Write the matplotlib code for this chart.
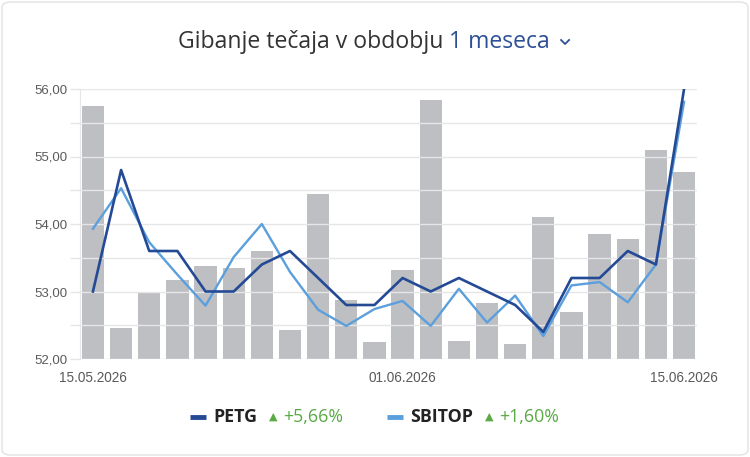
import numpy as np
import matplotlib
matplotlib.use("Agg")
import matplotlib.pyplot as plt
from matplotlib.patches import FancyBboxPatch
from matplotlib.lines import Line2D

# trading days shown on the chart
dates = ['15.05.2026', '18.05.2026', '19.05.2026', '20.05.2026', '21.05.2026',
         '22.05.2026', '25.05.2026', '26.05.2026', '27.05.2026', '28.05.2026',
         '29.05.2026', '01.06.2026', '02.06.2026', '03.06.2026', '04.06.2026',
         '05.06.2026', '08.06.2026', '09.06.2026', '10.06.2026', '11.06.2026',
         '12.06.2026', '15.06.2026']
shown_dates = ['15.05.2026', '01.06.2026', '15.06.2026']

petg = [53.0, 54.8, 53.6, 53.6, 53.0, 53.0, 53.4, 53.6, 53.2, 52.8, 52.8,
        53.2, 53.0, 53.2, 53.0, 52.8, 52.4, 53.2, 53.2, 53.6, 53.4, 56.0]
sbitop = [53.93, 54.53, 53.73, 53.25, 52.79, 53.51, 54.0, 53.29, 52.73, 52.49, 52.74,
          52.86, 52.49, 53.04, 52.54, 52.94, 52.34, 53.09, 53.14, 52.84, 53.40, 55.81]
# volume bars, drawn on the price scale
volume = [55.75, 52.46, 53.0, 53.17, 53.38, 53.35, 53.6, 52.43, 54.44, 52.88, 52.25,
          53.32, 55.83, 52.26, 52.83, 52.22, 54.10, 52.70, 53.85, 53.78, 55.09, 54.77]

yticks = np.arange(52, 56.01, 0.5)
series_names = ['PETG', 'SBITOP']
changes = ['+5,66%', '+1,60%']

dark = '#244a96'
light = '#5b9fdc'
green = '#5aaa45'
grid_c = '#e6e6e6'

W, H = 750, 457
fig = plt.figure(figsize=(W / 100, H / 100), dpi=100)
fig.patch.set_facecolor('white')

# card border
card = FancyBboxPatch((2 / W, 2 / H), 746 / W, 453 / H,
                      boxstyle='round,pad=0,rounding_size=0.012',
                      transform=fig.transFigure, facecolor='white',
                      edgecolor='#e2e2e2', linewidth=1.0, zorder=-5)
fig.patches.append(card)

ax = fig.add_axes([80 / W, 1 - 359 / H, 617 / W, 270 / H])
ax.set_zorder(2)
x = np.arange(len(dates))
ax.bar(x, np.array(volume) - 52, bottom=52, width=0.79, color='#bdbfc2', zorder=1)
ax.plot(x, sbitop, color=light, lw=1.7, zorder=3)
ax.plot(x, petg, color=dark, lw=1.9, zorder=4)

ax.set_xlim(-0.46, 21.46)
ax.set_ylim(52, 56)
ax.set_yticks(yticks)
ax.set_yticklabels([f'{v:.2f}'.replace('.', ',') if v % 1 == 0 else '' for v in yticks])
ax.grid(axis='y', color=grid_c, lw=1.0, zorder=0)
ax.tick_params(axis='y', length=7, color=grid_c, width=1.0, pad=2,
               labelsize=9.5, labelcolor='#5a5a5a')
ax.set_xticks([dates.index(d) for d in shown_dates])
ax.set_xticklabels(shown_dates)
ax.tick_params(axis='x', length=0, pad=9, labelsize=9.8, labelcolor='#5a5a5a')
for lab in ax.get_xticklabels() + ax.get_yticklabels():
    lab.set_fontfamily('Liberation Sans')
for s in ['top', 'right', 'bottom']:
    ax.spines[s].set_visible(False)
ax.spines['left'].set_color(grid_c)
ax.set_facecolor('none')

# title in two colours
r = fig.canvas.get_renderer()
tfont = dict(family='Open Sans', size=16.6)
t1 = fig.text(0, 1 - 42 / H, 'Gibanje tečaja v obdobju ', color='#333333', va='center', **tfont)
t2 = fig.text(0, 1 - 42 / H, '1 meseca', color='#2c4f96', va='center', **tfont)
w1 = t1.get_window_extent(r).width
w2 = t2.get_window_extent(r).width
chev = 22
x0 = (W - (w1 + w2 + chev)) / 2
t1.set_x(x0 / W)
t2.set_x((x0 + w1) / W)
cx = x0 + w1 + w2 + 15
cy = H - 42
fig.add_artist(Line2D([(cx - 4) / W, cx / W, (cx + 4) / W],
                      [(cy + 2) / H, (cy - 2) / H, (cy + 2) / H],
                      color='#2c4f96', lw=1.3, transform=fig.transFigure))

# legend
ly = 1 - 417 / H
lx = [190, 387]
for i, name in enumerate(series_names):
    c = dark if i == 0 else light
    fig.add_artist(Line2D([lx[i] / W, (lx[i] + 16) / W], [ly, ly], color=c, lw=3.5,
                          solid_capstyle='butt', transform=fig.transFigure))
    tn = fig.text((lx[i] + 23) / W, ly, name, fontweight='bold', color='#222222',
                  va='center', family='Open Sans', size=12.8)
    wn = tn.get_window_extent(r).width
    px = lx[i] + 23 + wn + 12
    fig.text(px / W, ly, '▲', color=green, va='center', family='DejaVu Sans', size=8)
    fig.text((px + 14) / W, ly, changes[i], color=green, va='center',
             family='Open Sans', size=12.8)

fig.savefig('out.png', dpi=100, facecolor='white')
